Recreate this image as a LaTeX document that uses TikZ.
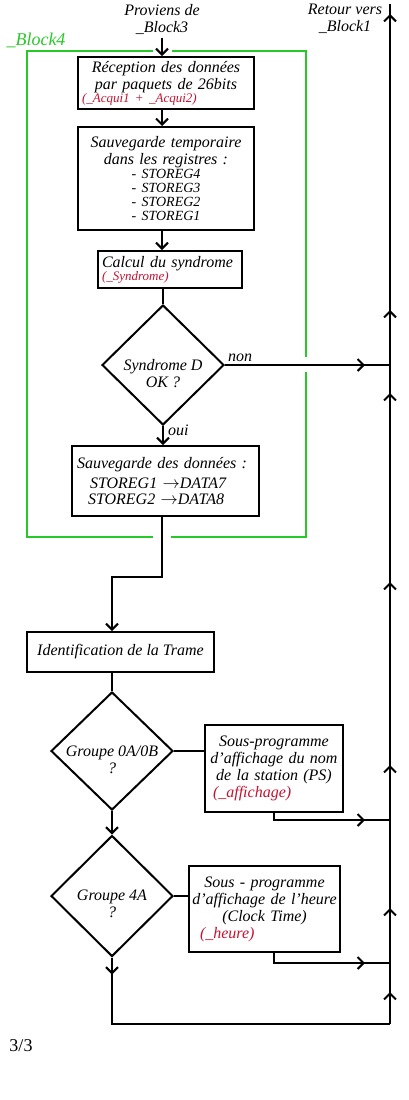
\documentclass[tikz,border=0pt]{standalone}
\usepackage{fontspec}
\setmainfont{Liberation Serif}
\usepackage{tikz}
\usetikzlibrary{arrows.meta,shapes.geometric,decorations.markings}
\definecolor{blockc}{RGB}{40,200,40}
\definecolor{subc}{RGB}{196,18,48}
\newcommand{\subname}[1]{{\color{subc}#1}}
\newcommand{\regfont}{\fontsize{14}{13}\selectfont}

\begin{document}
\begin{tikzpicture}[x=1pt,y=-1pt,>={Straight Barb[length=6pt,width=12pt]},
  txt/.style={font=\itshape\fontsize{16}{17}\selectfont},
  stepbox/.style={txt,draw,line width=2pt,inner sep=4pt,align=center},
  decision/.style={draw,diamond,line width=2pt,inner sep=0pt,minimum width=122pt,minimum height=120pt},
  dtext/.style={txt,align=center,inner sep=0pt},
  flow/.style={line width=2pt},
  midarrow/.style={postaction={decorate,decoration={markings,
    mark=at position #1 with {\arrow{Straight Barb[length=6pt,width=12pt]}}}}}]
\useasboundingbox (0,0) rectangle (408,1100);
% incoming / outgoing labels
\node[txt,align=center] (from) at (162,19) {Proviens de\\\_Block3};
\node[txt,align=center] (back) at (345,19) {Retour vers\\\_Block1};
\coordinate (spine) at (162,0);
% block 4 frame
\node[txt,text=blockc,font=\itshape\fontsize{18}{18}\selectfont] (blk) at (36,40) {\_Block4};
\draw[blockc,line width=2pt] (153,51) -| (27,537) -- (153,537);
\draw[blockc,line width=2pt] (171,537) -| (306,372);
\draw[blockc,line width=2pt] (306,357) |- (172,51);
% steps inside block 4
\node[stepbox,minimum width=176pt,minimum height=48pt,text width=168pt] (recep) at (166,83)
  {R\'eception des donn\'ees\\par paquets de 26bits\\[-4pt]
   \makebox[\linewidth][l]{\fontsize{13}{13}\selectfont\subname{(\_Acqui1 + \_Acqui2)}}};
\node[stepbox,minimum width=176pt,minimum height=103pt,text width=168pt] (sauvtmp) at (166,178.5)
  {Sauvegarde temporaire\\dans les registres :\\[-3pt]
   {\regfont - STOREG4}\\[-3pt]{\regfont - STOREG3}\\[-3pt]{\regfont - STOREG2}\\[-3pt]{\regfont - STOREG1}};
\node[stepbox,align=left,minimum width=144pt,minimum height=37pt,text width=136pt] (synd) at (170,269.5)
  {Calcul du syndrome\\[-4pt]{\fontsize{13}{13}\selectfont\subname{(\_Syndrome)}}};
\node[decision] (okD) at (163,365) {};
\node[dtext] (okDt) at (163,374) {Syndrome D\\OK ?};
\node[stepbox,align=left,minimum width=187pt,minimum height=70pt,text width=177pt] (sauvdata) at (165.5,481)
  {Sauvegarde des donn\'ees :\\[3pt]
   \hspace*{13pt}STOREG1 $\rightarrow$DATA7\\[-1pt]\hspace*{11pt}STOREG2 $\rightarrow$DATA8};
% frame identification
\node[stepbox,minimum width=187pt,minimum height=40pt] (ident) at (120.5,652) {Identification de la Trame};
\node[decision,minimum height=118pt] (grpA) at (112,751) {};
\node[dtext] (grpAt) at (112,760) {Groupe 0A/0B\\?};
\node[stepbox,minimum width=138pt,minimum height=87pt,text width=130pt] (affps) at (274,768.5)
  {Sous-programme\\d'affichage du nom\\de la station (PS)\\
   \makebox[\linewidth][l]{\hspace*{4pt}\subname{(\_affichage)}}};
\node[decision,minimum height=121pt] (grpB) at (112,896) {};
\node[dtext] (grpBt) at (112,904) {Groupe 4A\\?};
\node[stepbox,inner xsep=2pt,minimum width=151pt,minimum height=86pt,text width=147pt] (affct) at (264.5,909)
  {Sous - programme\\d'affichage de l'heure\\(Clock Time)\\
   \makebox[\linewidth][l]{\hspace*{9pt}\subname{(\_heure)}}};
\node[font=\fontsize{18}{18}\selectfont] (page) at (21,1046) {3/3};
% return line
\coordinate (ret) at (390,4);
\coordinate (rD) at (390,365);
\coordinate (rA) at (390,820);
\coordinate (rB) at (390,963);
\coordinate (rbot) at (390,1024);
\coordinate (jog) at (112,577);
% connectors
\draw[flow,->] (from.south -| spine) -- (recep.north -| spine);
\foreach \a/\b in {recep/sauvtmp,sauvtmp/synd}
  \draw[flow,->] (\a.south -| spine) -- (\b.north -| spine);
\draw[flow] (synd.south -| okD) -- (okD.north);
\draw[flow,->] (okD.south) -- (sauvdata.north -| okD)
  node[pos=0.2,anchor=west,txt,inner sep=2pt,xshift=2pt] (oui) {oui};
\draw[flow,midarrow=-25pt] (okD.east) -- (rD)
  node[pos=0,anchor=south west,txt,inner sep=2pt] (non) {non};
\draw[flow,->] (sauvdata.south -| spine) |- (jog) -- (ident.north -| jog);
\draw[flow] (ident.south -| grpA) -- (grpA.north);
\draw[flow] (grpA.east) -- (affps.west |- grpA.east);
\draw[flow,->] (grpA.south) -- (grpB.north);
\draw[flow] (grpB.east) -- (affct.west |- grpB.east);
\draw[flow,midarrow=-25pt] (affps.south) |- (rA);
\draw[flow,midarrow=-25pt] (affct.south -| affps.south) |- (rB);
\draw[flow,midarrow=17pt] (grpB.south) |- (rbot);
\draw[flow,midarrow=32pt,midarrow=116pt,midarrow=259pt,midarrow=442pt,
  midarrow=631pt,midarrow=714pt,midarrow=1010pt] (rbot) -- (ret);
\end{tikzpicture}
\end{document}
